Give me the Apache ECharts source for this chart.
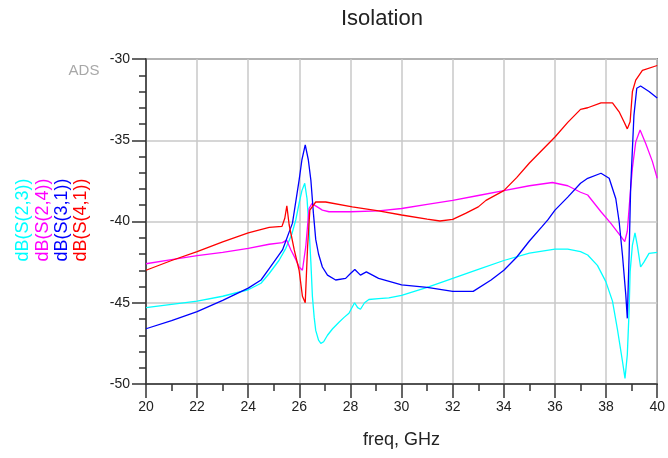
<!DOCTYPE html>
<html>
<head>
    <meta charset="UTF-8">
    <title>Isolation</title>
    <script src="https://cdn.jsdelivr.net/npm/echarts@6/dist/echarts.min.js"></script>
</head>
<body style="margin: 0;background: #fff;">
<div id="chart" style="width: 668px;height: 458px;"></div>
<script>
    // frequency points (GHz) and dB values
    var freq23 = [20, 21, 22, 23, 24, 24.5, 24.82, 25.2, 25.47, 25.7, 25.86, 26.0, 26.1, 26.21, 26.3, 26.38, 26.45, 26.51, 26.58, 26.64, 26.75, 26.84, 26.95, 27.1, 27.3, 27.55, 27.75, 27.94, 28.16, 28.28, 28.39, 28.55, 28.72, 29.1, 29.5, 30, 31, 32, 33, 34, 35, 36, 36.5, 37, 37.28, 37.66, 37.99, 38.25, 38.44, 38.64, 38.74, 38.83, 38.9, 38.94, 39.03, 39.13, 39.22, 39.35, 39.48, 39.68, 40];
    var s23 = [-45.3, -45.1, -44.9, -44.6, -44.2, -43.8, -43.2, -42.4, -41.65, -40.8, -39.9, -38.8, -38.1, -37.65, -38.6, -40.5, -42.5, -44.6, -45.9, -46.7, -47.3, -47.5, -47.4, -47.0, -46.6, -46.2, -45.9, -45.65, -45.0, -45.3, -45.4, -45.0, -44.8, -44.75, -44.7, -44.55, -44.05, -43.5, -42.95, -42.4, -41.95, -41.7, -41.7, -41.85, -42.06, -42.7, -43.7, -44.9, -46.6, -48.6, -49.65, -48.2, -45.5, -43.1, -41.45, -40.7, -41.45, -42.8, -42.5, -41.96, -41.9];

    var freq24 = [20, 21, 22, 23, 24, 24.82, 25.34, 25.5, 25.67, 25.85, 25.99, 26.12, 26.25, 26.38, 26.49, 26.7, 26.9, 27.16, 28, 29.1, 30, 31, 32, 33, 34, 35, 35.9, 36.5, 37, 37.28, 37.8, 38.18, 38.57, 38.73, 38.83, 38.94, 39.03, 39.16, 39.33, 39.55, 39.81, 40];
    var s24 = [-42.6, -42.35, -42.1, -41.9, -41.65, -41.4, -41.3, -41.14, -41.75, -42.3, -42.8, -43.0, -41.55, -39.2, -38.9, -39.1, -39.3, -39.4, -39.4, -39.35, -39.2, -38.95, -38.7, -38.4, -38.1, -37.8, -37.6, -37.8, -38.2, -38.37, -39.4, -40.1, -40.9, -41.24, -40.6, -38.37, -36.7, -35.1, -34.37, -35.2, -36.3, -37.34];

    var freq31 = [20, 21, 22, 23, 24, 24.5, 24.82, 25.34, 25.73, 25.99, 26.1, 26.23, 26.35, 26.45, 26.55, 26.64, 26.75, 26.9, 27.1, 27.42, 27.81, 28.0, 28.17, 28.39, 28.62, 29.1, 30, 31, 32, 32.8, 33.5, 34, 34.5, 35, 35.5, 35.72, 36, 36.5, 37, 37.28, 37.8, 38.12, 38.38, 38.51, 38.64, 38.77, 38.83, 38.9, 38.96, 39.09, 39.2, 39.35, 39.68, 40];
    var s31 = [-46.6, -46.1, -45.55, -44.85, -44.1, -43.6, -42.9, -41.75, -40.1, -37.45, -36.2, -35.29, -36.2, -37.45, -39.5, -41.1, -42.0, -42.8, -43.3, -43.6, -43.5, -43.2, -42.95, -43.3, -43.1, -43.5, -43.9, -44.05, -44.3, -44.3, -43.6, -43.0, -42.2, -41.2, -40.3, -39.9, -39.3, -38.5, -37.65, -37.34, -37.03, -37.34, -38.6, -40.0, -42.06, -44.5, -45.96, -42.06, -37.96, -33.45, -31.8, -31.66, -32.0, -32.4];

    var freq41 = [20, 21, 22, 23, 24, 24.82, 25.32, 25.43, 25.51, 25.6, 25.8, 25.99, 26.12, 26.23, 26.32, 26.41, 26.64, 27.03, 28.07, 29.1, 30, 31, 31.5, 32, 32.5, 33, 33.3, 34, 34.5, 35, 36, 36.5, 37, 37.28, 37.8, 38.25, 38.51, 38.7, 38.83, 38.94, 39.03, 39.16, 39.42, 40];
    var s41 = [-43.0, -42.4, -41.85, -41.25, -40.7, -40.36, -40.3, -39.8, -39.03, -40.2, -41.75, -43.0, -44.6, -45.0, -41.6, -39.3, -38.8, -38.8, -39.1, -39.35, -39.6, -39.85, -39.97, -39.87, -39.5, -39.1, -38.7, -38.1, -37.3, -36.4, -34.8, -33.9, -33.1, -33.0, -32.7, -32.7, -33.25, -33.86, -34.3, -33.86, -32.0, -31.3, -30.7, -30.4];

    var names = ['dB(S(2,3))', 'dB(S(2,4))', 'dB(S(3,1))', 'dB(S(4,1))'];
    var colors = ['#00ffff', '#ff00ff', '#0000ff', '#ff0000'];

    function pairs(xs, ys) {
        return xs.map(function (x, i) {
            return [x, ys[i]];
        });
    }

    var curves = [pairs(freq23, s23), pairs(freq24, s24), pairs(freq31, s31), pairs(freq41, s41)];
    var font = 'Liberation Sans, Arial, sans-serif';

    var chart = echarts.init(document.getElementById('chart'));

    var labelX = [23.5, 43, 62, 81];
    var graphics = names.map(function (n, i) {
        return {
            type: 'text',
            x: labelX[i],
            y: 220,
            rotation: Math.PI / 2,
            style: {
                text: n,
                fill: colors[i],
                font: '18px ' + font,
                textAlign: 'center',
                textVerticalAlign: 'middle',
                align: 'center',
                verticalAlign: 'middle'
            }
        };
    });
    graphics.push({
        type: 'text',
        x: 84,
        y: 71,
        style: {
            text: 'ADS',
            fill: '#a8a8a8',
            font: '15px ' + font,
            textAlign: 'center',
            textVerticalAlign: 'middle',
            align: 'center',
            verticalAlign: 'middle'
        }
    });

    var option = {
        animation: false,
        title: {
            text: 'Isolation',
            left: 336,
            top: 3,
            textStyle: {
                color: '#222',
                fontSize: 22,
                fontWeight: 'normal',
                fontFamily: font
            }
        },
        grid: {
            left: 146,
            right: 8,
            top: 59,
            bottom: 74,
            show: true,
            borderColor: '#444',
            borderWidth: 1.5
        },
        graphic: graphics,
        xAxis: {
            type: 'value',
            min: 20,
            max: 40,
            interval: 2,
            name: 'freq, GHz',
            nameLocation: 'middle',
            nameGap: 47,
            nameTextStyle: {color: '#222', fontSize: 18, fontFamily: font},
            axisLine: {lineStyle: {color: '#333', width: 1.5}},
            axisTick: {length: 14, lineStyle: {color: '#333', width: 1.5}},
            minorTick: {show: true, splitNumber: 2, length: 7, lineStyle: {color: '#333', width: 1.5}},
            axisLabel: {color: '#222', fontSize: 14, fontFamily: font, margin: 16},
            splitLine: {lineStyle: {color: '#c8c8c8', width: 1.5}}
        },
        yAxis: {
            type: 'value',
            min: -50,
            max: -30,
            interval: 5,
            axisLine: {show: true, lineStyle: {color: '#333', width: 1.5}},
            axisTick: {show: true, length: 14, lineStyle: {color: '#333', width: 1.5}},
            minorTick: {show: true, splitNumber: 5, length: 7, lineStyle: {color: '#333', width: 1.5}},
            axisLabel: {color: '#222', fontSize: 14, fontFamily: font, margin: 16},
            splitLine: {lineStyle: {color: '#c8c8c8', width: 1.5}}
        },
        series: curves.map(function (d, i) {
            return {
                name: names[i],
                type: 'line',
                data: d,
                showSymbol: false,
                color: colors[i],
                lineStyle: {width: 1.3, color: colors[i]}
            };
        })
    };
    chart.setOption(option);
</script>
</body>
</html>
